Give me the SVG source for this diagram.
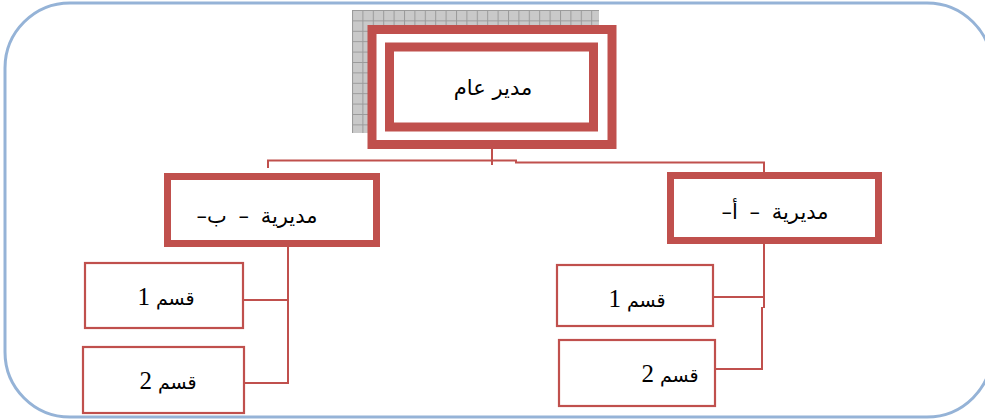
<svg xmlns="http://www.w3.org/2000/svg" width="985" height="420" viewBox="0 0 985 420">
<defs>
<pattern id="grid" x="352" y="10" width="10.4" height="10.4" patternUnits="userSpaceOnUse">
<rect width="10.4" height="10.4" fill="#c9c9c9"/>
<path d="M0 0.5H10.4M0.5 0V10.4" stroke="#9a9a9a" stroke-width="1" fill="none"/>
</pattern>
<style>
.frame{fill:none;stroke:#95B3D7;stroke-width:3}
.thick{fill:#fff;stroke:#C0504D;stroke-width:9}
.mid{fill:#fff;stroke:#C0504D;stroke-width:7}
.thin{fill:#fff;stroke:#C0504D;stroke-width:2.2}
.con path{fill:none;stroke:#C0504D;stroke-width:2}
.ar{font-family:"DejaVu Sans","Liberation Sans",sans-serif;font-size:21px;fill:#000;direction:rtl;unicode-bidi:embed;text-anchor:middle}
.wide{word-spacing:5px}
.qs{font-family:"DejaVu Sans","Liberation Serif",sans-serif;font-size:19px;fill:#000;direction:rtl;unicode-bidi:embed;text-anchor:middle}
.dg{font-family:"Liberation Serif",serif;font-size:25px}
</style>
</defs>
<rect width="985" height="420" fill="#fff"/>
<rect class="frame" x="5" y="3" width="987" height="414" rx="65" ry="65"/>
<g id="connectors" class="con">
<path d="M492 149V165"/>
<path d="M268 168V160.5H516V162.5H764V172"/>
<path d="M288 247V383H244"/>
<path d="M243 300H288"/>
<path d="M764 244V308"/>
<path d="M713 297H764"/>
<path d="M762 307V369H715"/>
</g>
<g id="general-manager">
<rect x="352" y="10" width="247" height="123" fill="url(#grid)"/>
<rect class="thick" x="372" y="29.5" width="240" height="115"/>
<rect class="thick" x="389.5" y="47" width="204" height="80"/>
<text class="ar" x="493" y="95">مدير عام</text>
</g>
<g id="directorate-b">
<rect class="mid" x="167.5" y="176.5" width="209" height="67"/>
<text class="ar wide" x="257" y="223">مديرية – ب–</text>
</g>
<g id="directorate-a">
<rect class="mid" x="670.5" y="175.5" width="208" height="65"/>
<text class="ar wide" x="775" y="219">مديرية – أ–</text>
</g>
<g id="b-section-1">
<rect class="thin" x="85" y="263" width="158" height="65"/>
<text class="qs" x="166" y="305">قسم <tspan class="dg">1</tspan></text>
</g>
<g id="b-section-2">
<rect class="thin" x="83" y="347" width="161" height="66"/>
<text class="qs" x="168" y="389">قسم <tspan class="dg">2</tspan></text>
</g>
<g id="a-section-1">
<rect class="thin" x="557" y="265" width="156" height="61"/>
<text class="qs" x="637" y="307">قسم <tspan class="dg">1</tspan></text>
</g>
<g id="a-section-2">
<rect class="thin" x="559" y="340" width="156" height="66"/>
<text class="qs" x="670" y="382">قسم <tspan class="dg">2</tspan></text>
</g>
</svg>
